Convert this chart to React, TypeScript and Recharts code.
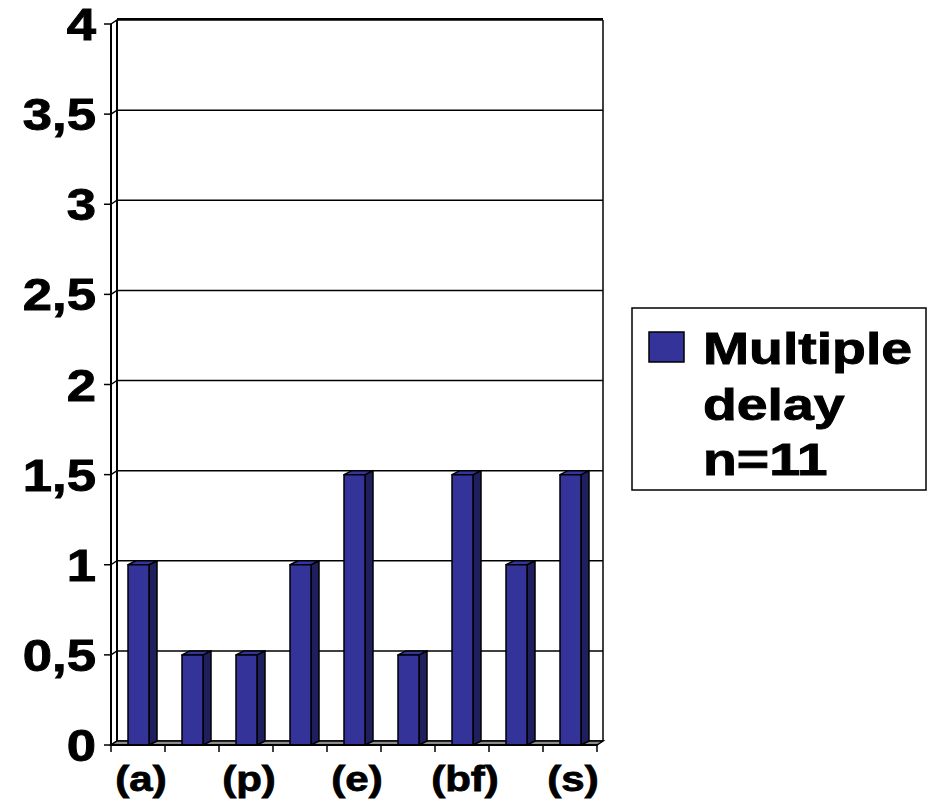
import { BarChart, Bar, XAxis, YAxis, CartesianGrid, Customized, Legend } from "recharts";

const categories = ["(a)", "", "(p)", "", "(e)", "", "(bf)", "", "(s)"];
const multipleDelay = [1, 0.5, 0.5, 1, 1.5, 0.5, 1.5, 1, 1.5];
const yTicks = [0, 0.5, 1, 1.5, 2, 2.5, 3, 3.5, 4];
const seriesName = ["Multiple", "delay", "n=11"];

const data = categories.map((label, i) => ({ label, value: multipleDelay[i] }));

// plot box (front plane) - fixed by the margins below
const LEFT = 111;
const TOP = 24;
const RIGHT = 597;
const BOTTOM = 745;
const BAND = (RIGHT - LEFT) / categories.length;
// depth offset of the 3D back wall
const DX = 6;
const DY = 4;

const FONT = "'Liberation Sans', Arial, Helvetica, sans-serif";
const STRETCH = 1.2;

function Bar3D(props: any) {
  const { x, y, width, height } = props;
  const bx = 8;
  const by = 4;
  if (!height) return null;
  return (
    <g stroke="#000" strokeWidth={1.5} strokeLinejoin="round">
      <polygon
        points={`${x + width},${y} ${x + width + bx},${y - by} ${x + width + bx},${y + height - by} ${x + width},${y + height}`}
        fill="#1f1f5e"
      />
      <polygon
        points={`${x},${y} ${x + bx},${y - by} ${x + width + bx},${y - by} ${x + width},${y}`}
        fill="#3535a0"
      />
      <rect x={x} y={y} width={width} height={height} fill="#333399" />
    </g>
  );
}

function GridLine(props: any) {
  const { x1, x2, y1 } = props;
  return (
    <polyline
      key={props.key ?? `g-${y1}`}
      points={`${x1},${y1} ${x1 + DX},${y1 - DY} ${x2 + DX},${y1 - DY}`}
      fill="none"
      stroke="#000"
      strokeWidth={1.5}
    />
  );
}

function Walls() {
  return (
    <g>
      <polygon
        points={`${LEFT},${BOTTOM} ${RIGHT},${BOTTOM} ${RIGHT + DX},${BOTTOM - DY} ${LEFT + DX},${BOTTOM - DY}`}
        fill="#8c8c8c"
        stroke="#000"
        strokeWidth={1.5}
      />
      <line x1={LEFT + DX} y1={TOP - DY} x2={LEFT + DX} y2={BOTTOM - DY} stroke="#000" strokeWidth={2} />
      <line x1={RIGHT + DX} y1={TOP - DY} x2={RIGHT + DX} y2={BOTTOM - DY} stroke="#000" strokeWidth={1.5} />
      <line x1={LEFT + DX} y1={TOP - DY - 1} x2={RIGHT + DX} y2={TOP - DY - 1} stroke="#000" strokeWidth={2} />
    </g>
  );
}

function YTick(props: any) {
  const { y, payload } = props;
  const txt = String(payload.value).replace(".", ",");
  return (
    <g transform={`translate(96, ${y + 16}) scale(${STRETCH - 0.03}, 1)`}>
      <text
        x={0}
        y={0}
        textAnchor="end"
        fontFamily={FONT}
        fontWeight="bold"
        fontSize={45}
        fill="#000"
        stroke="#000"
        strokeWidth={0.9}
      >
        {txt}
      </text>
    </g>
  );
}

function XTick(props: any) {
  const { x, payload, index } = props;
  const left = x - BAND / 2;
  return (
    <g>
      <line x1={left} y1={BOTTOM} x2={left} y2={BOTTOM + 7} stroke="#000" strokeWidth={1.5} />
      {index === categories.length - 1 && (
        <line x1={x + BAND / 2} y1={BOTTOM} x2={x + BAND / 2} y2={BOTTOM + 7} stroke="#000" strokeWidth={1.5} />
      )}
      {payload.value && (
        <g transform={`translate(${x + 3}, 791) scale(${STRETCH}, 1)`}>
          <text
            x={0}
            y={0}
            textAnchor="middle"
            fontFamily={FONT}
            fontWeight="bold"
            fontSize={35}
            fill="#000"
            stroke="#000"
            strokeWidth={0.8}
          >
            {payload.value}
          </text>
        </g>
      )}
    </g>
  );
}

function LegendBox() {
  return (
    <svg width={296} height={184} style={{ display: "block" }}>
      <rect x={1} y={1} width={294} height={182} fill="#fff" stroke="#000" strokeWidth={1.5} />
      <rect x={18} y={25} width={35} height={30} fill="#333399" stroke="#000" strokeWidth={1.5} />
      {seriesName.map((t, i) => (
        <g key={t} transform={`translate(72, ${57 + i * 55.5}) scale(${STRETCH + 0.03}, 1)`}>
          <text x={0} y={0} fontFamily={FONT} fontWeight="bold" fontSize={45} fill="#000" stroke="#000" strokeWidth={0.9}>
            {t}
          </text>
        </g>
      ))}
    </svg>
  );
}

export default function App() {
  return (
    <div style={{ position: "absolute", left: 0, top: 0, width: 928, height: 805, background: "#fff" }}>
      <BarChart
        width={928}
        height={805}
        data={data}
        margin={{ top: TOP, right: 928 - RIGHT, left: 0, bottom: 0 }}
        barCategoryGap={0}
      >
        <Customized component={<Walls />} />
        <CartesianGrid vertical={false} horizontal={(p: any) => <GridLine {...p} />} />
        <XAxis
          dataKey="label"
          height={805 - BOTTOM}
          interval={0}
          tickLine={false}
          axisLine={{ stroke: "#000", strokeWidth: 2 }}
          tick={<XTick />}
          allowDuplicatedCategory
        />
        <YAxis
          width={LEFT}
          domain={[0, 4]}
          ticks={yTicks}
          interval={0}
          tickSize={7}
          tickLine={{ stroke: "#000", strokeWidth: 1.5 }}
          axisLine={{ stroke: "#000", strokeWidth: 2 }}
          tick={<YTick />}
        />
        <Legend
          layout="vertical"
          align="center"
          verticalAlign="middle"
          content={() => <LegendBox />}
          wrapperStyle={{ left: 631, top: 307, width: 296, height: 184 }}
        />
        <Bar dataKey="value" name="Multiple delay n=11" barSize={21} shape={<Bar3D />} isAnimationActive={false} />
      </BarChart>
    </div>
  );
}
